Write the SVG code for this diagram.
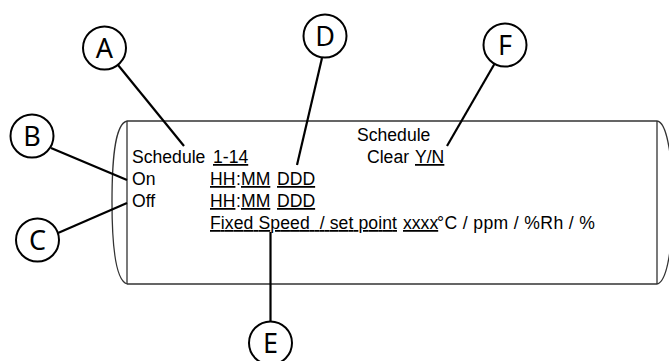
<svg xmlns="http://www.w3.org/2000/svg" width="669" height="361" viewBox="0 0 669 361">
<style>
.frame{fill:none;stroke:#333;stroke-width:1.3}
.callout{fill:#fff;stroke:#000;stroke-width:2}
.lbl{font-family:"Noto Sans","Open Sans",sans-serif;font-size:27px;fill:#000;text-anchor:middle}
.conn{stroke:#000;stroke-width:2.2;fill:none}
.t{font-family:"Liberation Sans",Arial,sans-serif;font-size:17.6px;fill:#000}
.u{text-decoration:underline}
</style>
<rect width="669" height="361" fill="#fff"/>
<g id="display">
<path class="frame" d="M127,121 H657 M127,284 H657 M127,121 V284 M657,121 V284"/>
<path class="frame" d="M127,121 C114,124 112,165 112,202 C112,240 115,280 127,284"/>
<path class="frame" d="M657,121 C668,122 673,165 673,202 C673,240 668,282 657,284"/>
<text class="t" x="132" y="163">Schedule</text>
<text class="t u" x="213" y="163">1-14</text>
<text class="t" x="132" y="185">On</text>
<text class="t" y="185"><tspan class="u" x="210">HH</tspan><tspan x="236">:</tspan><tspan class="u" x="241">MM</tspan><tspan class="u" x="277">DDD</tspan></text>
<text class="t" x="132" y="207">Off</text>
<text class="t" y="207"><tspan class="u" x="210">HH</tspan><tspan x="236">:</tspan><tspan class="u" x="241">MM</tspan><tspan class="u" x="277">DDD</tspan></text>
<text class="t u" x="210" y="229" xml:space="preserve" style="white-space:pre" textLength="187" lengthAdjust="spacing">Fixed Speed  / set point</text>
<text class="t u" x="403" y="229">xxxx</text>
<text class="t" x="437" y="229" textLength="158" lengthAdjust="spacing">°C / ppm / %Rh / %</text>
<text class="t" x="357" y="141">Schedule</text>
<text class="t" x="367" y="163">Clear</text>
<text class="t u" x="415" y="163">Y/N</text>
</g>
<g id="connectors">
<line class="conn" x1="118" y1="65" x2="184" y2="146"/>
<line class="conn" x1="51" y1="148" x2="127" y2="180"/>
<line class="conn" x1="58" y1="233" x2="127" y2="203"/>
<line class="conn" x1="322" y1="58" x2="297" y2="165"/>
<line class="conn" x1="270.5" y1="232" x2="270.5" y2="321"/>
<line class="conn" x1="495" y1="63" x2="447" y2="146"/>
</g>
<g id="node-A"><circle class="callout" cx="104.5" cy="48" r="21.5"/><text class="lbl" x="104.5" y="57.5">A</text></g>
<g id="node-B"><circle class="callout" cx="32" cy="136" r="21.5"/><text class="lbl" x="32" y="145.5">B</text></g>
<g id="node-C"><circle class="callout" cx="37.5" cy="240" r="21.5"/><text class="lbl" x="37.5" y="249.5">C</text></g>
<g id="node-D"><circle class="callout" cx="325" cy="36" r="21.5"/><text class="lbl" x="325" y="45.5">D</text></g>
<g id="node-E"><circle class="callout" cx="270.5" cy="343" r="21.5"/><text class="lbl" x="270.5" y="352.5">E</text></g>
<g id="node-F"><circle class="callout" cx="505" cy="45" r="21.5"/><text class="lbl" x="505" y="54.5">F</text></g>
</svg>
